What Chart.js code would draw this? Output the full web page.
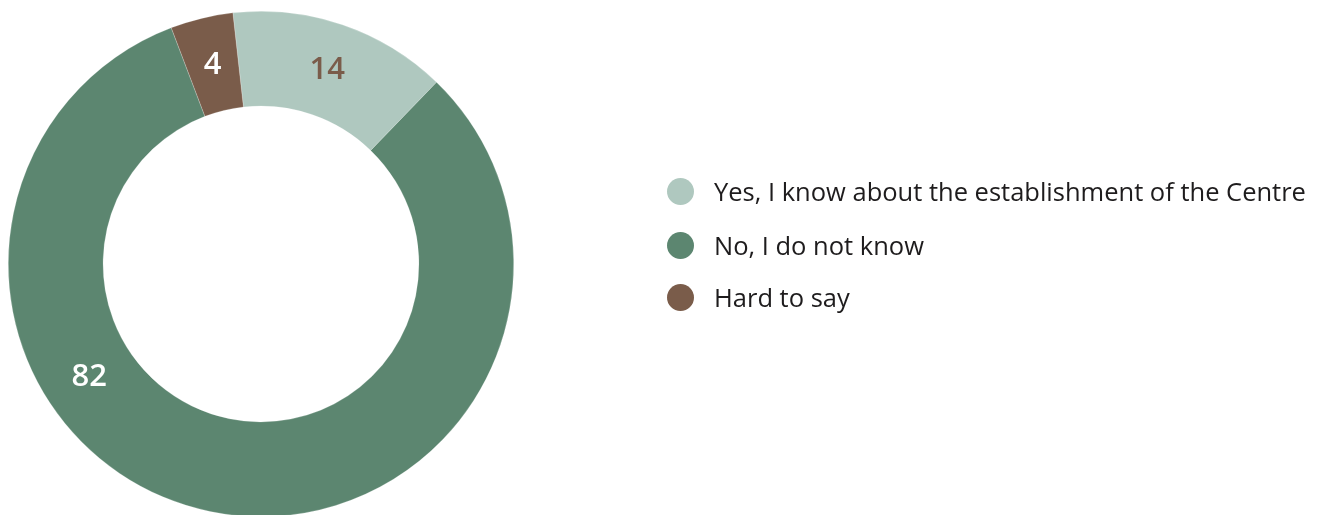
<!DOCTYPE html>
<html>
<head>
<meta charset="utf-8">
<script src="https://cdn.jsdelivr.net/npm/chart.js@4.4.1/dist/chart.umd.min.js"></script>
<style>
  html, body { margin: 0; padding: 0; background: #ffffff; overflow: hidden; }
  #wrap { position: relative; width: 1322px; height: 515px; }
  #chart-box { position: absolute; left: 0; top: 0; width: 1322px; height: 530px; }
  #legend { position: absolute; left: 667px; top: 0; margin: 0; padding: 0; list-style: none;
            font-family: "Open Sans", sans-serif; font-size: 25.5px; color: #1e1c1d; }
  #legend li { position: absolute; left: 0; white-space: nowrap; display: flex; align-items: center; }
  #legend .dot { width: 27px; height: 27px; border-radius: 50%; margin-right: 20px; flex: none; }
</style>
</head>
<body>
<div id="wrap">
  <div id="chart-box"><canvas id="c"></canvas></div>
  <ul id="legend"></ul>
</div>
<script>
// Survey answers and their shares, in percent
const categories = [
  "Yes, I know about the establishment of the Centre",
  "No, I do not know",
  "Hard to say"
];
const shares = [14, 82, 4];
const sliceColors = ["#afc8bf", "#5c8670", "#7a5c4a"];
const valueColors = ["#7a5c4a", "#ffffff", "#ffffff"];

// Angle (degrees from 12 o'clock) where the first slice begins
const START_ANGLE = -6.4;
// The large slice has its number placed low on the left of the ring
const labelAngleOverride = { 1: 236.8 };

const valueLabels = {
  id: "valueLabels",
  afterDatasetsDraw(chart) {
    const { ctx } = chart;
    const meta = chart.getDatasetMeta(0);
    ctx.save();
    ctx.font = "600 31px 'Open Sans', sans-serif";
    ctx.textAlign = "center";
    ctx.textBaseline = "middle";
    meta.data.forEach((arc, i) => {
      const p = arc.getProps(["x", "y", "startAngle", "endAngle", "innerRadius", "outerRadius"], true);
      let a = (p.startAngle + p.endAngle) / 2;
      if (labelAngleOverride[i] !== undefined) {
        a = (labelAngleOverride[i] - 90) * Math.PI / 180;
      }
      const r = (p.innerRadius + p.outerRadius) / 2;
      ctx.fillStyle = valueColors[i];
      ctx.fillText(String(shares[i]), p.x + r * Math.cos(a), p.y + r * Math.sin(a) + 1);
    });
    ctx.restore();
  }
};

new Chart(document.getElementById("c"), {
  type: "doughnut",
  data: {
    labels: categories,
    datasets: [{
      data: shares,
      backgroundColor: sliceColors,
      borderColor: "rgba(255,255,255,0.35)",
      borderWidth: 0.6
    }]
  },
  options: {
    responsive: true,
    maintainAspectRatio: false,
    animation: false,
    rotation: START_ANGLE,
    cutout: "62.5%",
    layout: { padding: { left: 8, top: 11, right: 808, bottom: 13 } },
    plugins: {
      legend: { display: false },
      tooltip: { enabled: false }
    }
  },
  plugins: [valueLabels]
});

// Legend built from the same categories and colours
const legendRows = [192, 246, 298];
const legend = document.getElementById("legend");
categories.forEach((name, i) => {
  const li = document.createElement("li");
  li.style.top = (legendRows[i] - 18) + "px";
  const dot = document.createElement("span");
  dot.className = "dot";
  dot.style.background = sliceColors[i];
  const txt = document.createElement("span");
  txt.textContent = name;
  li.appendChild(dot);
  li.appendChild(txt);
  legend.appendChild(li);
});
</script>
</body>
</html>
